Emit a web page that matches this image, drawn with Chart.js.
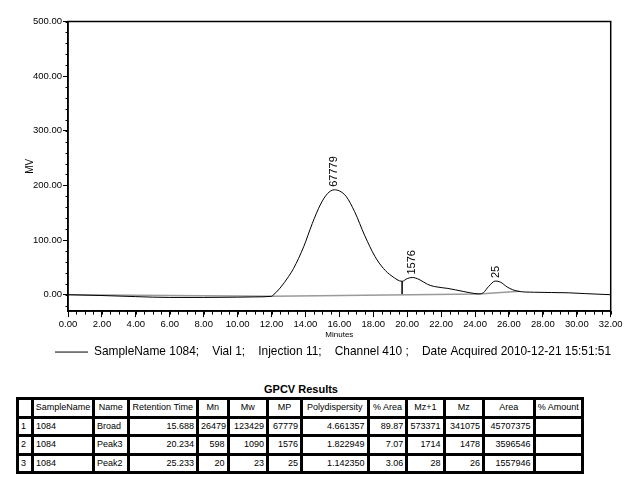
<!DOCTYPE html>
<html>
<head>
<meta charset="utf-8">
<script src="https://cdn.jsdelivr.net/npm/chart.js@4.4.1/dist/chart.umd.min.js"></script>
<style>
  body { margin: 0; background: #fff; font-family: "Liberation Sans", Arial, sans-serif; }
  #wrap { position: relative; width: 630px; height: 492px; }
  #chart { position: absolute; left: 0; top: 0; }
  #ttl { position: absolute; left: 0; width: 602px; top: 383px; text-align: center; font-weight: bold; font-size: 11px; line-height: 13px; }
  table { position: absolute; left: 16px; top: 397px; width: 568px; border-collapse: separate; border-spacing: 3px; background: #000; table-layout: fixed; font-size: 9px; }
  td { background: #fff; height: 15.5px; padding: 0 2px; box-sizing: border-box; white-space: nowrap; overflow: visible; line-height: 15px; }
  td.r { text-align: right; padding-right: 2px; }
  tr.h td { text-align: center; padding: 0; }
</style>
</head>
<body>
<div id="wrap">
  <canvas id="chart" width="630" height="380"></canvas>
  <div id="ttl">GPCV Results</div>
  <table>
    <colgroup>
      <col style="width:12px"><col style="width:58px"><col style="width:31.6px"><col style="width:66.4px">
      <col style="width:27.6px"><col style="width:36.4px"><col style="width:31px"><col style="width:63.6px">
      <col style="width:35.7px"><col style="width:34.3px"><col style="width:36.4px"><col style="width:47.6px"><col style="width:45.4px">
    </colgroup>
    <tr class="h"><td></td><td>SampleName</td><td>Name</td><td>Retention Time</td><td>Mn</td><td>Mw</td><td>MP</td><td>Polydispersity</td><td>% Area</td><td>Mz+1</td><td>Mz</td><td>Area</td><td>% Amount</td></tr>
    <tr><td>1</td><td>1084</td><td>Broad</td><td class="r">15.688</td><td class="r">26479</td><td class="r">123429</td><td class="r">67779</td><td class="r">4.661357</td><td class="r">89.87</td><td class="r">573371</td><td class="r">341075</td><td class="r">45707375</td><td></td></tr>
    <tr><td>2</td><td>1084</td><td>Peak3</td><td class="r">20.234</td><td class="r">598</td><td class="r">1090</td><td class="r">1576</td><td class="r">1.822949</td><td class="r">7.07</td><td class="r">1714</td><td class="r">1478</td><td class="r">3596546</td><td></td></tr>
    <tr><td>3</td><td>1084</td><td>Peak2</td><td class="r">25.233</td><td class="r">20</td><td class="r">23</td><td class="r">25</td><td class="r">1.142350</td><td class="r">3.06</td><td class="r">28</td><td class="r">26</td><td class="r">1557946</td><td></td></tr>
  </table>
</div>
<script>
// chromatogram trace (minutes / MV)
const TIMES  = [0, 2, 4, 6, 8, 10, 11, 12, 12.05, 12.5, 13.0, 13.3, 13.9, 14.4, 14.9, 15.3, 15.7, 16.0, 16.4, 16.9, 17.5, 18.1, 18.6, 19.1, 19.7, 20.0, 20.3, 20.7, 21.2, 21.6, 22.4, 23.3, 24.0, 24.25, 24.5, 24.8, 25.2, 25.5, 25.9, 26.5, 27.5, 28.5, 29.5, 30.5, 32];
const SIGNAL = [0, -1.5, -3.5, -5, -5, -4.5, -4, -3, -2, 12, 33, 48, 88, 130, 166, 185, 192, 190, 180, 152, 108, 70, 48, 34, 24.5, 29.5, 31.5, 28, 19, 15, 11.5, 6, 2, 1.5, 4, 15, 25, 23, 14, 6.5, 4.5, 4, 3.5, 2, 0];

// integration baseline
const BASE_T = [0, 12.05, 24.25, 26.6];
const BASE_V = [0, -3, 1.3, 6.5];

// drop line between broad peak and peak3
const DROP_T = [19.7, 19.7];
const DROP_V = [-0.3, 24.5];

// peak apex labels (MP)
const PEAK_TIMES   = [15.7, 20.3, 25.25];
const PEAK_HEIGHTS = [192, 31.5, 25];
const PEAK_LABELS  = ['67779', '1576', '25'];

const X_MIN = 0, X_MAX = 32, X_STEP = 2, X_MINOR = 0.5;
const Y_MIN = -30, Y_MAX = 500, Y_MINOR = 20;
const Y_TICKS = [0, 100, 200, 300, 400, 500];

const LEGEND_TEXT = 'SampleName 1084;    Vial 1;    Injection 11;    Channel 410 ;    Date Acquired 2010-12-21 15:51:51';

const FONT = '"Liberation Sans", Arial, sans-serif';

const toXY = (xs, ys) => xs.map((v, i) => ({ x: v, y: ys[i] }));

// box around the plot area
const frame = {
  id: 'frame',
  afterDraw(chart) {
    const { ctx, chartArea: a } = chart;
    ctx.save();
    ctx.strokeStyle = '#000';
    ctx.lineWidth = 1.5;
    ctx.strokeRect(a.left, a.top, a.right - a.left, a.bottom - a.top);
    ctx.restore();
  }
};

// small ticks between the labelled ones
const minorTicks = {
  id: 'minorTicks',
  afterDraw(chart) {
    const { ctx, chartArea: a, scales: { x, y } } = chart;
    ctx.save();
    ctx.strokeStyle = '#000';
    ctx.lineWidth = 1;
    ctx.beginPath();
    for (let v = X_MIN; v <= X_MAX + 1e-6; v += X_MINOR) {
      const px = Math.round(x.getPixelForValue(v)) + 0.5;
      ctx.moveTo(px, a.bottom);
      ctx.lineTo(px, a.bottom + 3.5);
    }
    for (let v = -20; v <= Y_MAX + 1e-6; v += Y_MINOR) {
      const py = Math.round(y.getPixelForValue(v)) + 0.5;
      ctx.moveTo(a.left, py);
      ctx.lineTo(a.left - 2.5, py);
    }
    ctx.stroke();
    ctx.restore();
  }
};

// rotated MP labels above each apex
const peakLabels = {
  id: 'peakLabels',
  afterDatasetsDraw(chart) {
    const { ctx, scales: { x, y } } = chart;
    ctx.save();
    ctx.font = '11px ' + FONT;
    ctx.fillStyle = '#000';
    ctx.textAlign = 'left';
    ctx.textBaseline = 'middle';
    PEAK_TIMES.forEach((t, i) => {
      ctx.save();
      ctx.translate(x.getPixelForValue(t), y.getPixelForValue(PEAK_HEIGHTS[i]) - 3);
      ctx.rotate(-Math.PI / 2);
      ctx.fillText(PEAK_LABELS[i], 0, 0);
      ctx.restore();
    });
    ctx.restore();
  }
};

// legend sits indented under the plot, not at the canvas edge
const legendIndent = {
  id: 'legendIndent',
  afterLayout(chart) {
    chart.legend.left = 48;
    chart.legend.right = chart.width;
  }
};

new Chart(document.getElementById('chart'), {
  type: 'line',
  data: {
    datasets: [
      {
        label: LEGEND_TEXT,
        data: toXY(TIMES, SIGNAL),
        borderColor: '#000',
        borderWidth: 1,
        pointRadius: 0,
        cubicInterpolationMode: 'monotone'
      },
      {
        label: 'baseline',
        data: toXY(BASE_T, BASE_V),
        borderColor: '#9a9a9a',
        borderWidth: 1.5,
        pointRadius: 0,
        tension: 0
      },
      {
        label: 'drop',
        data: toXY(DROP_T, DROP_V),
        borderColor: '#000',
        borderWidth: 1.5,
        pointRadius: 0,
        tension: 0
      }
    ]
  },
  options: {
    responsive: false,
    animation: false,
    layout: { padding: { left: 0, top: 21.5, right: 19.3, bottom: 12 } },
    plugins: {
      tooltip: { enabled: false },
      legend: {
        position: 'bottom',
        align: 'start',
        labels: {
          filter: item => item.datasetIndex === 0,
          usePointStyle: true,
          pointStyle: 'line',
          pointStyleWidth: 33,
          padding: 7,
          color: '#000',
          font: { family: FONT, size: 11.9 }
        }
      }
    },
    scales: {
      x: {
        type: 'linear',
        min: X_MIN,
        max: X_MAX,
        afterFit: s => { s.height = 28; },
        border: { color: '#000', width: 1.5 },
        grid: { drawOnChartArea: false, tickLength: 6, tickColor: '#000' },
        ticks: {
          stepSize: X_STEP,
          maxRotation: 0,
          autoSkip: false,
          padding: 2,
          color: '#000',
          font: { family: FONT, size: 9.5 },
          callback: v => v.toFixed(2)
        },
        title: { display: true, text: 'Minutes', color: '#000', padding: 0, font: { family: FONT, size: 8 } }
      },
      y: {
        min: Y_MIN,
        max: Y_MAX,
        afterFit: s => { s.width = 68; },
        afterBuildTicks: s => { s.ticks = Y_TICKS.map(v => ({ value: v })); },
        border: { color: '#000', width: 1.5 },
        grid: { drawOnChartArea: false, tickLength: 5, tickColor: '#000' },
        ticks: {
          padding: 1,
          color: '#000',
          font: { family: FONT, size: 9.5 },
          callback: v => v.toFixed(2)
        },
        title: { display: true, text: 'MV', color: '#000', padding: { top: 24, bottom: 0 }, font: { family: FONT, size: 10 } }
      }
    }
  },
  plugins: [frame, minorTicks, peakLabels, legendIndent]
});
</script>
</body>
</html>
